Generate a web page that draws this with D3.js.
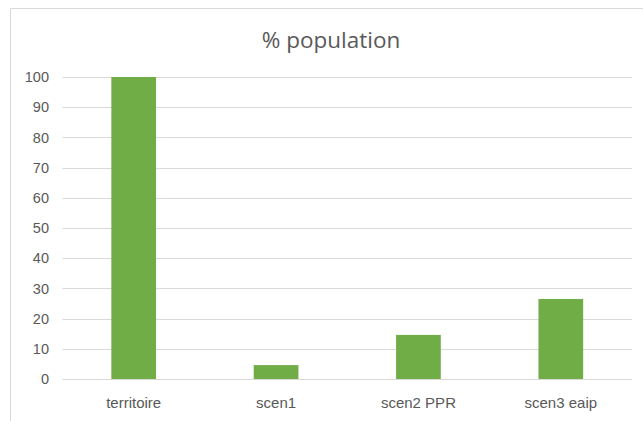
<!DOCTYPE html>
<html>
<head>
<meta charset="utf-8">
<script src="https://cdn.jsdelivr.net/npm/d3@7"></script>
<style>
  html, body { margin: 0; padding: 0; background: #fff; }
  svg { display: block; font-family: "Open Sans", "Liberation Sans", sans-serif; }
</style>
</head>
<body>
<svg id="chart" width="643" height="421"></svg>
<script>
// Share of population by scenario
const categories = ["territoire", "scen1", "scen2 PPR", "scen3 eaip"];
const values = [100, 4.6, 14.6, 26.5];
const yTicks = [0, 10, 20, 30, 40, 50, 60, 70, 80, 90, 100];
const title = "% population";

const W = 643, H = 421;
const margin = { left: 62.5, right: 11, top: 77, bottom: 42 };

const svg = d3.select("#chart");

// chart area frame (top and left edges)
svg.append("line").attr("x1", 10.5).attr("x2", W).attr("y1", 8.5).attr("y2", 8.5)
  .attr("stroke", "#d9d9d9").attr("stroke-width", 1);
svg.append("line").attr("x1", 10.5).attr("x2", 10.5).attr("y1", 8.5).attr("y2", H)
  .attr("stroke", "#d9d9d9").attr("stroke-width", 1);

const x = d3.scaleBand()
  .domain(categories)
  .range([margin.left, W - margin.right])
  .paddingInner(0.686)
  .paddingOuter(0.343);

const y = d3.scaleLinear()
  .domain([0, 100])
  .range([H - margin.bottom, margin.top]);

// horizontal gridlines
svg.append("g")
  .selectAll("line")
  .data(yTicks)
  .join("line")
  .attr("x1", margin.left)
  .attr("x2", W - margin.right)
  .attr("y1", d => Math.round(y(d)) + 0.5)
  .attr("y2", d => Math.round(y(d)) + 0.5)
  .attr("stroke", "#d9d9d9")
  .attr("stroke-width", 1);

// y axis labels
const yAxis = d3.axisLeft(y).tickValues(yTicks).tickSize(0).tickPadding(13.5);
const gy = svg.append("g")
  .attr("transform", `translate(${margin.left},0)`)
  .call(yAxis);
gy.select(".domain").remove();
gy.selectAll("text")
  .attr("fill", "#595959")
  .style("font-size", "14.5px");

// bars
svg.append("g")
  .selectAll("rect")
  .data(values)
  .join("rect")
  .attr("x", (d, i) => x(categories[i]))
  .attr("width", x.bandwidth())
  .attr("y", d => y(d))
  .attr("height", d => y(0) - y(d))
  .attr("fill", "#70ad47");

// category labels
const xAxis = d3.axisBottom(x).tickSize(0).tickPadding(18);
const gx = svg.append("g")
  .attr("transform", `translate(0,${y(0)})`)
  .call(xAxis);
gx.select(".domain").remove();
gx.selectAll("text")
  .attr("fill", "#595959")
  .style("font-size", "15px");

// title
svg.append("text")
  .attr("x", 331)
  .attr("y", 48)
  .attr("text-anchor", "middle")
  .attr("fill", "#595959")
  .style("font-size", "22.5px")
  .text(title);
</script>
</body>
</html>
